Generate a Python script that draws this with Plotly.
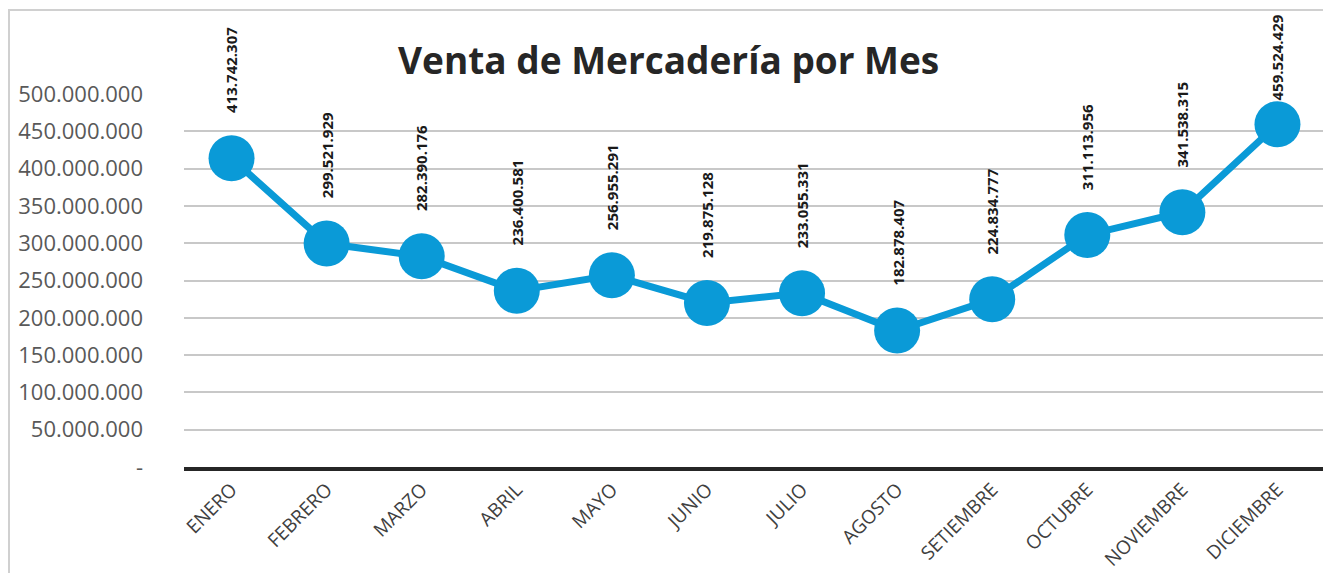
import plotly.graph_objects as go

months = ["ENERO", "FEBRERO", "MARZO", "ABRIL", "MAYO", "JUNIO", "JULIO",
          "AGOSTO", "SETIEMBRE", "OCTUBRE", "NOVIEMBRE", "DICIEMBRE"]
sales = [413742307, 299521929, 282390176, 236400581, 256955291, 219875128,
         233055331, 182878407, 224834777, 311113956, 341538315, 459524429]
y_tickvals = [0, 50e6, 100e6, 150e6, 200e6, 250e6, 300e6, 350e6, 400e6, 450e6, 500e6]
y_ticktext = ["-", "50.000.000", "100.000.000", "150.000.000", "200.000.000",
              "250.000.000", "300.000.000", "350.000.000", "400.000.000",
              "450.000.000", "500.000.000"]
title_text = "Venta de Mercadería por Mes"

# page has an 8px body margin; figure coordinates = page pixels - 8
OFF = 8
W, H = 1318, 565
ML, MT = 184 - OFF, 94 - OFF
MB = H - (467 - OFF)
MR = W - (1325 - OFF)
BLUE = "#0A9AD7"
Y_MAX = 500e6

pw = W - ML - MR
ph = H - MT - MB
def px_to_paper_x(px):
    return (px - OFF - ML) / pw
def px_to_paper_y(py):
    return 1 - (py - OFF - MT) / ph

fig = go.Figure()
fig.add_trace(go.Scatter(
    x=months, y=sales, mode="lines+markers",
    line=dict(color=BLUE, width=7),
    marker=dict(color=BLUE, size=46),
    hoverinfo="skip", showlegend=False,
))

LABEL_GAP = 43      # px between point centre and label bottom
LABEL_LEN = 84      # approx rotated label length in px
LABEL_TOP_MIN = 18 - OFF  # keep labels inside the chart area
annotations = []
for m, v in zip(months, sales):
    py = MT + (1 - v / Y_MAX) * ph
    shift = LABEL_GAP
    if py - shift - LABEL_LEN < LABEL_TOP_MIN:
        shift = py - LABEL_LEN - LABEL_TOP_MIN
    annotations.append(dict(
        x=m, y=v, xref="x", yref="y",
        text="<b>" + f"{v:,}".replace(",", ".") + "</b>",
        textangle=-90, showarrow=False,
        xanchor="center", yanchor="bottom", yshift=shift,
        font=dict(family="Open Sans", size=15, color="#1a1a1a"),
    ))
annotations.append(dict(
    x=px_to_paper_x(668), y=px_to_paper_y(60),
    xref="paper", yref="paper", text="<b>" + title_text + "</b>",
    showarrow=False, xanchor="center", yanchor="middle",
    font=dict(family="Open Sans", size=37, color="#262626"),
))

shapes = [dict(
    type="rect", xref="paper", yref="paper",
    x0=px_to_paper_x(9), x1=px_to_paper_x(1326),
    y0=px_to_paper_y(620), y1=px_to_paper_y(10),
    line=dict(color="#D0D0D0", width=2), fillcolor="rgba(0,0,0,0)", layer="below",
)]

fig.update_layout(
    width=W, height=H,
    margin=dict(l=ML, r=MR, t=MT, b=MB, pad=0),
    paper_bgcolor="white", plot_bgcolor="white",
    annotations=annotations, shapes=shapes,
    xaxis=dict(
        type="category", range=[-0.5, 11.5], showgrid=False,
        showline=True, linecolor="#262626", linewidth=4,
        tickangle=-45, ticks="", ticklen=0,
        tickfont=dict(family="Open Sans", size=19, color="#404040"),
        zeroline=False, fixedrange=True,
    ),
    yaxis=dict(
        range=[0, Y_MAX], tickvals=y_tickvals, ticktext=y_ticktext,
        showgrid=True, gridcolor="#C8C8C8", gridwidth=2,
        zeroline=False, showline=False, ticks="", ticklabelstandoff=40,
        tickfont=dict(family="Open Sans", size=22, color="#595959"),
        fixedrange=True,
    ),
)

fig.write_html("out.html")
